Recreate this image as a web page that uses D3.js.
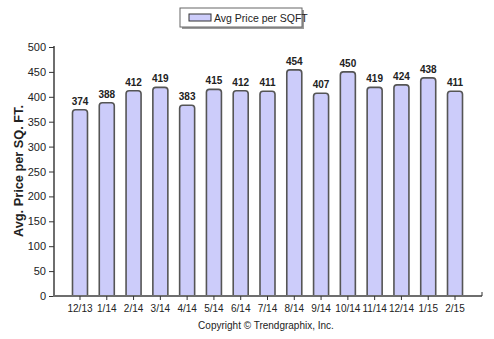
<!DOCTYPE html>
<html>
<head>
<meta charset="utf-8">
<script src="https://cdn.jsdelivr.net/npm/d3@7"></script>
<style>
  html, body { margin: 0; padding: 0; background: #fff; }
  svg { display: block; font-family: "Liberation Sans", Arial, sans-serif; }
</style>
</head>
<body>
<svg id="chart" width="494" height="339"></svg>
<script>
// Monthly average price per square foot
const months = ["12/13","1/14","2/14","3/14","4/14","5/14","6/14","7/14","8/14","9/14","10/14","11/14","12/14","1/15","2/15"];
const pricePerSqft = [374,388,412,419,383,415,412,411,454,407,450,419,424,438,411];
const yTicks = [0,50,100,150,200,250,300,350,400,450,500];
const seriesName = "Avg Price per SQFT";
const yTitle = "Avg. Price per SQ. FT.";
const footer = "Copyright \u00A9 Trendgraphix, Inc.";

const svg = d3.select("#chart");
const axisLeft = 54, axisRight = 482, plotTop = 47, plotBottom = 296;

const x = d3.scaleBand().domain(months).range([66.6, 468.4]).paddingInner(0.44).paddingOuter(0.22);
const y = d3.scaleLinear().domain([0, 500]).range([plotBottom, plotTop]);

const barFill = "#ccccfa", barStroke = "#555555", axisColor = "#6e6e6e";

// bars with rounded tops
const bw = x.bandwidth(), r = 3;
svg.append("g").selectAll("path").data(pricePerSqft).join("path")
  .attr("d", (d, i) => {
    const x0 = x(months[i]), x1 = x0 + bw, yt = y(d), yb = y(0);
    return `M${x0},${yb} L${x0},${yt + r} Q${x0},${yt} ${x0 + r},${yt} L${x1 - r},${yt} Q${x1},${yt} ${x1},${yt + r} L${x1},${yb}`;
  })
  .attr("fill", barFill)
  .attr("stroke", barStroke)
  .attr("stroke-width", 1.6);

// value labels
svg.append("g").selectAll("text").data(pricePerSqft).join("text")
  .attr("x", (d, i) => x(months[i]) + bw / 2)
  .attr("y", d => y(d) - 5)
  .attr("text-anchor", "middle")
  .attr("font-size", 10)
  .attr("font-weight", "bold")
  .attr("fill", "#222")
  .text(d => d);

// y axis
const yAxis = svg.append("g").attr("transform", `translate(${axisLeft},0)`)
  .call(d3.axisLeft(y).tickValues(yTicks).tickSize(5).tickPadding(3));
yAxis.select(".domain").attr("stroke", axisColor).attr("stroke-width", 2)
  .attr("d", `M-0,${plotTop - 1}V${plotBottom}`);
yAxis.selectAll(".tick line").attr("stroke", "#333");
yAxis.selectAll(".tick text").attr("font-size", 11).attr("fill", "#222")
  .attr("font-family", "Liberation Sans, Arial, sans-serif");

// x axis
const xAxis = svg.append("g").attr("transform", `translate(0,${plotBottom})`)
  .call(d3.axisBottom(x).tickSize(4).tickPadding(5));
xAxis.select(".domain").attr("stroke", axisColor).attr("stroke-width", 2)
  .attr("d", `M${axisLeft - 1},0H${axisRight}`);
xAxis.selectAll(".tick line").attr("stroke", "#333");
xAxis.selectAll(".tick text").attr("font-size", 10).attr("fill", "#222")
  .attr("font-family", "Liberation Sans, Arial, sans-serif");
xAxis.append("line").attr("x1", axisRight).attr("x2", axisRight).attr("y1", 0).attr("y2", -4)
  .attr("stroke", "#333");

// y axis title
svg.append("text")
  .attr("transform", `translate(23,171) rotate(-90)`)
  .attr("text-anchor", "middle")
  .attr("font-size", 13)
  .attr("font-weight", "bold")
  .attr("fill", "#222")
  .attr("textLength", 132)
  .attr("lengthAdjust", "spacingAndGlyphs")
  .text(yTitle);

// legend
const lg = svg.append("g").attr("transform", "translate(180,8)");
lg.append("rect").attr("x", 2).attr("y", 2).attr("width", 122).attr("height", 19).attr("fill", "#9a9a9a");
lg.append("rect").attr("x", 0).attr("y", 0).attr("width", 122).attr("height", 19)
  .attr("fill", "#fff").attr("stroke", "#666").attr("stroke-width", 1);
lg.append("rect").attr("x", 9).attr("y", 6).attr("width", 22).attr("height", 7)
  .attr("fill", barFill).attr("stroke", "#333").attr("stroke-width", 1);
lg.append("text").attr("x", 34).attr("y", 13.5).attr("font-size", 10.5).attr("fill", "#222").text(seriesName);

// footer
svg.append("text").attr("x", 266).attr("y", 329).attr("text-anchor", "middle")
  .attr("font-size", 10).attr("fill", "#222").text(footer);
</script>
</body>
</html>
